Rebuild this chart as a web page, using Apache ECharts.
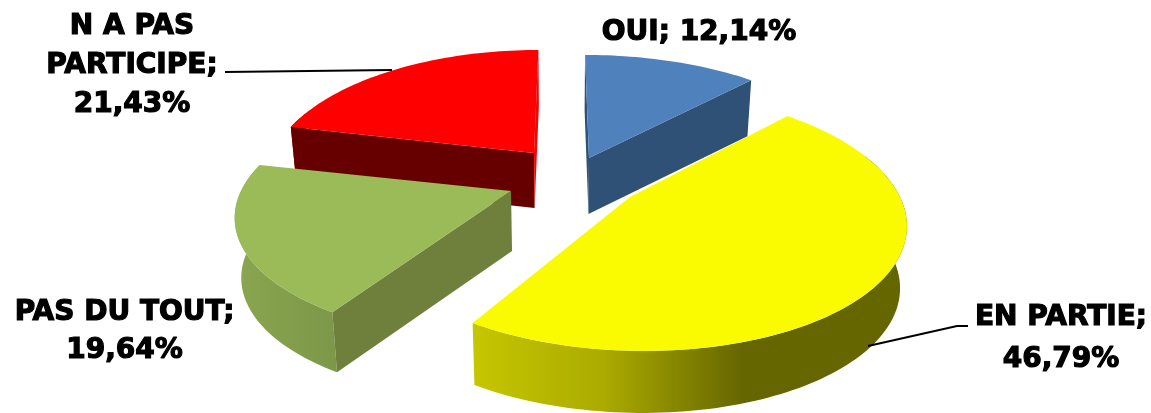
<!DOCTYPE html>
<html><head><meta charset="utf-8">
<style>html,body{margin:0;padding:0;background:#fff}#c{width:1151px;height:413px}</style>
<script src="https://cdn.jsdelivr.net/npm/echarts@6/dist/echarts.min.js"></script>
</head><body><div id="c"></div>
<script>
// data
const categories = ['OUI', 'EN PARTIE', 'PAS DU TOUT', 'N A PAS PARTICIPE'];
const values = [12.14, 46.79, 19.64, 21.43];
const labelLines = [['OUI; 12,14%'], ['EN PARTIE;', '46,79%'], ['PAS DU TOUT;', '19,64%'], ['N A PAS', 'PARTICIPE;', '21,43%']];

// style
const topColors = ['#4F81BD', '#FAFA00', '#9BBB59', '#FF0000'];
const cutColors = ['#2F5175', '#666600', '#6E803C', '#660000'];
const sliverColors = ['#2F5175', '#666600', '#6E803C', '#FF0000'];
const wallGradients = [
  ['#2F5175', '#2F5175'],
  ['#C6C600', '#ABAB00 30%', '#666600 62%', '#666600'],
  ['#8AA650', '#7C9748'],
  ['#660000', '#660000']
];
// layout of the projected pie
const pieCenter = [570, 170];
const explode = [[19, -12], [60, 27], [-59, 21], [-36, -17]];
const sliceScaleX = [1, 1, 1, 0.965];
const sliceScaleY = [1, 1.04, 1, 1];
const sliceDepth = [56, 62, 60, 55];
const drawOrder = [1, 3, 2, 0];
const radiusX = 270, radiusY = 121.5, persp = 0.179, vanishX = 563, taper = 0.02;
const labelPos = [[699, 33, 40], [1061, 339, 42], [124.5, 332, 38], [132, 66, 39]];
const leaders = [null, [[868, 346], [957, 326], [968, 326]], null, [[225, 72], [392, 70]]];

const total = values.reduce((a, b) => a + b, 0);
const starts = []; let acc = 0;
values.forEach(v => { starts.push(acc / total * Math.PI * 2); acc += v; });

function project(i, a) {
  const ax = pieCenter[0] + explode[i][0], ay = pieCenter[1] + explode[i][1];
  const s = 1 / (1 + persp * Math.cos(a));
  return [ax + s * radiusX * sliceScaleX[i] * Math.sin(a) + (s - 1) * (ax - vanishX),
          ay - s * radiusY * sliceScaleY[i] * Math.cos(a)];
}
function down(i, p) {
  return [vanishX + (p[0] - vanishX) * (1 - taper), p[1] + sliceDepth[i]];
}
function arc(i, a0, a1) {
  const pts = [], n = Math.max(2, Math.ceil(Math.abs(a1 - a0) * 40));
  for (let t = 0; t <= n; t++) pts.push(project(i, a0 + (a1 - a0) * t / n));
  return pts;
}
function gradient(stops) {
  return { type: 'linear', x: 0, y: 0, x2: 1, y2: 0,
    colorStops: stops.map((st, j) => {
      const m = st.split(' ');
      return { offset: m[1] ? parseFloat(m[1]) / 100 : j / (stops.length - 1), color: m[0] };
    }) };
}
function renderSlice(params, api) {
  const i = params.dataIndex;
  const frac = api.value(1) / total * Math.PI * 2;
  const a0 = starts[i], a1 = a0 + frac;
  const apex = [pieCenter[0] + explode[i][0], pieCenter[1] + explode[i][1]];
  const top = arc(i, a0, a1);
  const z = drawOrder[i] * 10;
  const children = [];
  const f0 = Math.max(a0, 70 * Math.PI / 180), f1 = Math.min(a1, 290 * Math.PI / 180);
  if (f1 > f0) {
    const rim = arc(i, f0, f1);
    const poly = rim.concat(rim.map(p => down(i, p)).reverse());
    children.push({ type: 'polygon', shape: { points: poly }, z2: z, style: { fill: gradient(wallGradients[i]) } });
  }
  const mid = project(i, (a0 + a1) / 2);
  [project(i, a0), project(i, a1)].forEach(p => {
    const ex = p[0] - apex[0], ey = p[1] - apex[1];
    let nx = -ey, ny = ex;
    if (nx * (mid[0] - apex[0]) + ny * (mid[1] - apex[1]) > 0) { nx = -nx; ny = -ny; }
    if (ny > 0) {
      const thin = Math.abs(ex) < Math.abs(ey) * 0.1;
      children.push({ type: 'polygon', z2: z + 1, shape: { points: [apex, p, down(i, p), down(i, apex)] }, style: { fill: thin ? sliverColors[i] : cutColors[i] } });
    }
  });
  children.push({ type: 'polygon', z2: z + 2, shape: { points: [apex].concat(top) }, style: { fill: topColors[i] } });
  if (leaders[i]) {
    children.push({ type: 'polyline', z2: 60, shape: { points: leaders[i] }, style: { stroke: '#000', lineWidth: 2, fill: null } });
  }
  const lp = labelPos[i];
  children.push({ type: 'text', z2: 70, style: {
    text: labelLines[i].join('\n'), x: lp[0], y: lp[1], align: 'center', verticalAlign: 'middle',
    font: '900 28px "DejaVu Sans", Verdana, sans-serif', lineHeight: lp[2], fill: '#000', stroke: '#000', lineWidth: 1.2
  } });
  return { type: 'group', children };
}

const chart = echarts.init(document.getElementById('c'), null, { renderer: 'canvas' });
chart.setOption({
  animation: false,
  backgroundColor: '#fff',
  series: [{
    type: 'custom',
    coordinateSystem: 'none',
    renderItem: renderSlice,
    data: categories.map((c, i) => ({ name: c, value: [i, values[i]] }))
  }]
});
</script></body></html>
